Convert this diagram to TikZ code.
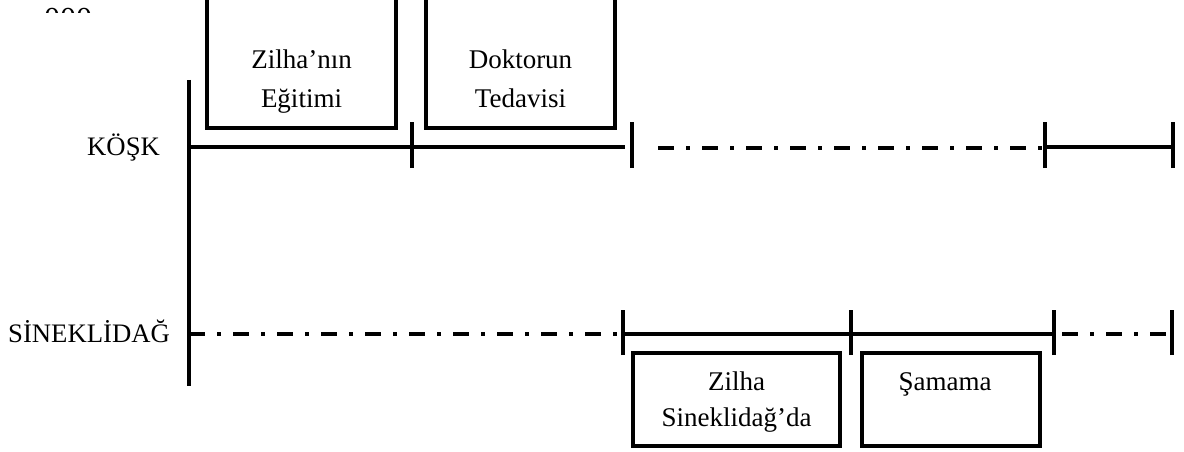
\documentclass[tikz,border=0pt]{standalone}
\usepackage{fontspec}
\setmainfont{Liberation Serif}
\begin{document}
\begin{tikzpicture}[x=1pt,y=-1pt,
  rule/.style={line width=3.4pt},
  dashdot/.style={line width=3.4pt, dash pattern=on 16pt off 12pt on 4pt off 12pt},
  eventbox/.style={line width=3.6pt},
  txt/.style={font=\fontsize{27}{38}\selectfont, inner sep=0pt, anchor=base},
  lbl/.style={font=\fontsize{26.7}{38}\selectfont, inner sep=0pt, anchor=base west}]
\useasboundingbox (0,0) rectangle (1184,452);
\clip (0,0) rectangle (1184,452);

% partly hidden page number
\begin{scope}
  \clip (0,0) rectangle (200,13);
  \node[font=\fontsize{32}{32}\selectfont, inner sep=0pt, anchor=base west] (pg) at (44,30) {000};
\end{scope}

% track names
\node[lbl] (kosk) at (87,155) {KÖŞK};
\node[lbl] (sin) at (8,342) {SİNEKLİDAĞ};

% main axis
\coordinate (ax1) at (189,80);
\coordinate (ax2) at (189,386);
\draw[rule] (ax1) -- (ax2);

% KÖŞK track
\coordinate (k0) at (189,147);
\coordinate (k1) at (412,147);
\coordinate (k2) at (632,147);
\coordinate (k2e) at (625,147);
\coordinate (k3s) at (658,148);
\coordinate (k3e) at (1042,148);
\coordinate (k4) at (1045,147);
\coordinate (k5) at (1173,147);
\draw[rule] (k0) -- (k2e);
\draw[dashdot] (k3s) -- (k3e);
\draw[rule] (k4) -- (k5);
\foreach \p in {k1,k2,k4,k5}
  \draw[rule] ([yshift=-21pt]\p) -- ([yshift=25pt]\p);

% SİNEKLİDAĞ track
\coordinate (s0) at (189,334);
\coordinate (s0e) at (617,334);
\coordinate (s1) at (623,334);
\coordinate (s2) at (851,334);
\coordinate (s3) at (1054,334);
\coordinate (s3s) at (1062,334);
\coordinate (s4) at (1172,334);
\draw[dashdot] (s0) -- (s0e);
\draw[rule] (s1) -- (s3);
\draw[dashdot] (s3s) -- (s4);
\foreach \p in {s1,s2,s3,s4}
  \draw[rule] ([yshift=-21pt]\p) -- ([yshift=24pt]\p);

% event boxes, upper track
\draw[eventbox] (207,-10) rectangle (396,128);
\draw[eventbox] (426,-10) rectangle (615,128);
\node[txt] (e1a) at (301.5,69) {Zilha’nın};
\node[txt] (e1b) at (301.5,107) {Eğitimi};
\node[txt] (e2a) at (520.5,69) {Doktorun};
\node[txt] (e2b) at (520.5,107) {Tedavisi};

% event boxes, lower track
\draw[eventbox] (633,353) rectangle (840,446);
\draw[eventbox] (862,353) rectangle (1040,446);
\node[txt] (e3a) at (736.5,390) {Zilha};
\node[txt] (e3b) at (736.5,426) {Sineklidağ’da};
\node[txt] (e4a) at (945,390) {Şamama};
\end{tikzpicture}
\end{document}
